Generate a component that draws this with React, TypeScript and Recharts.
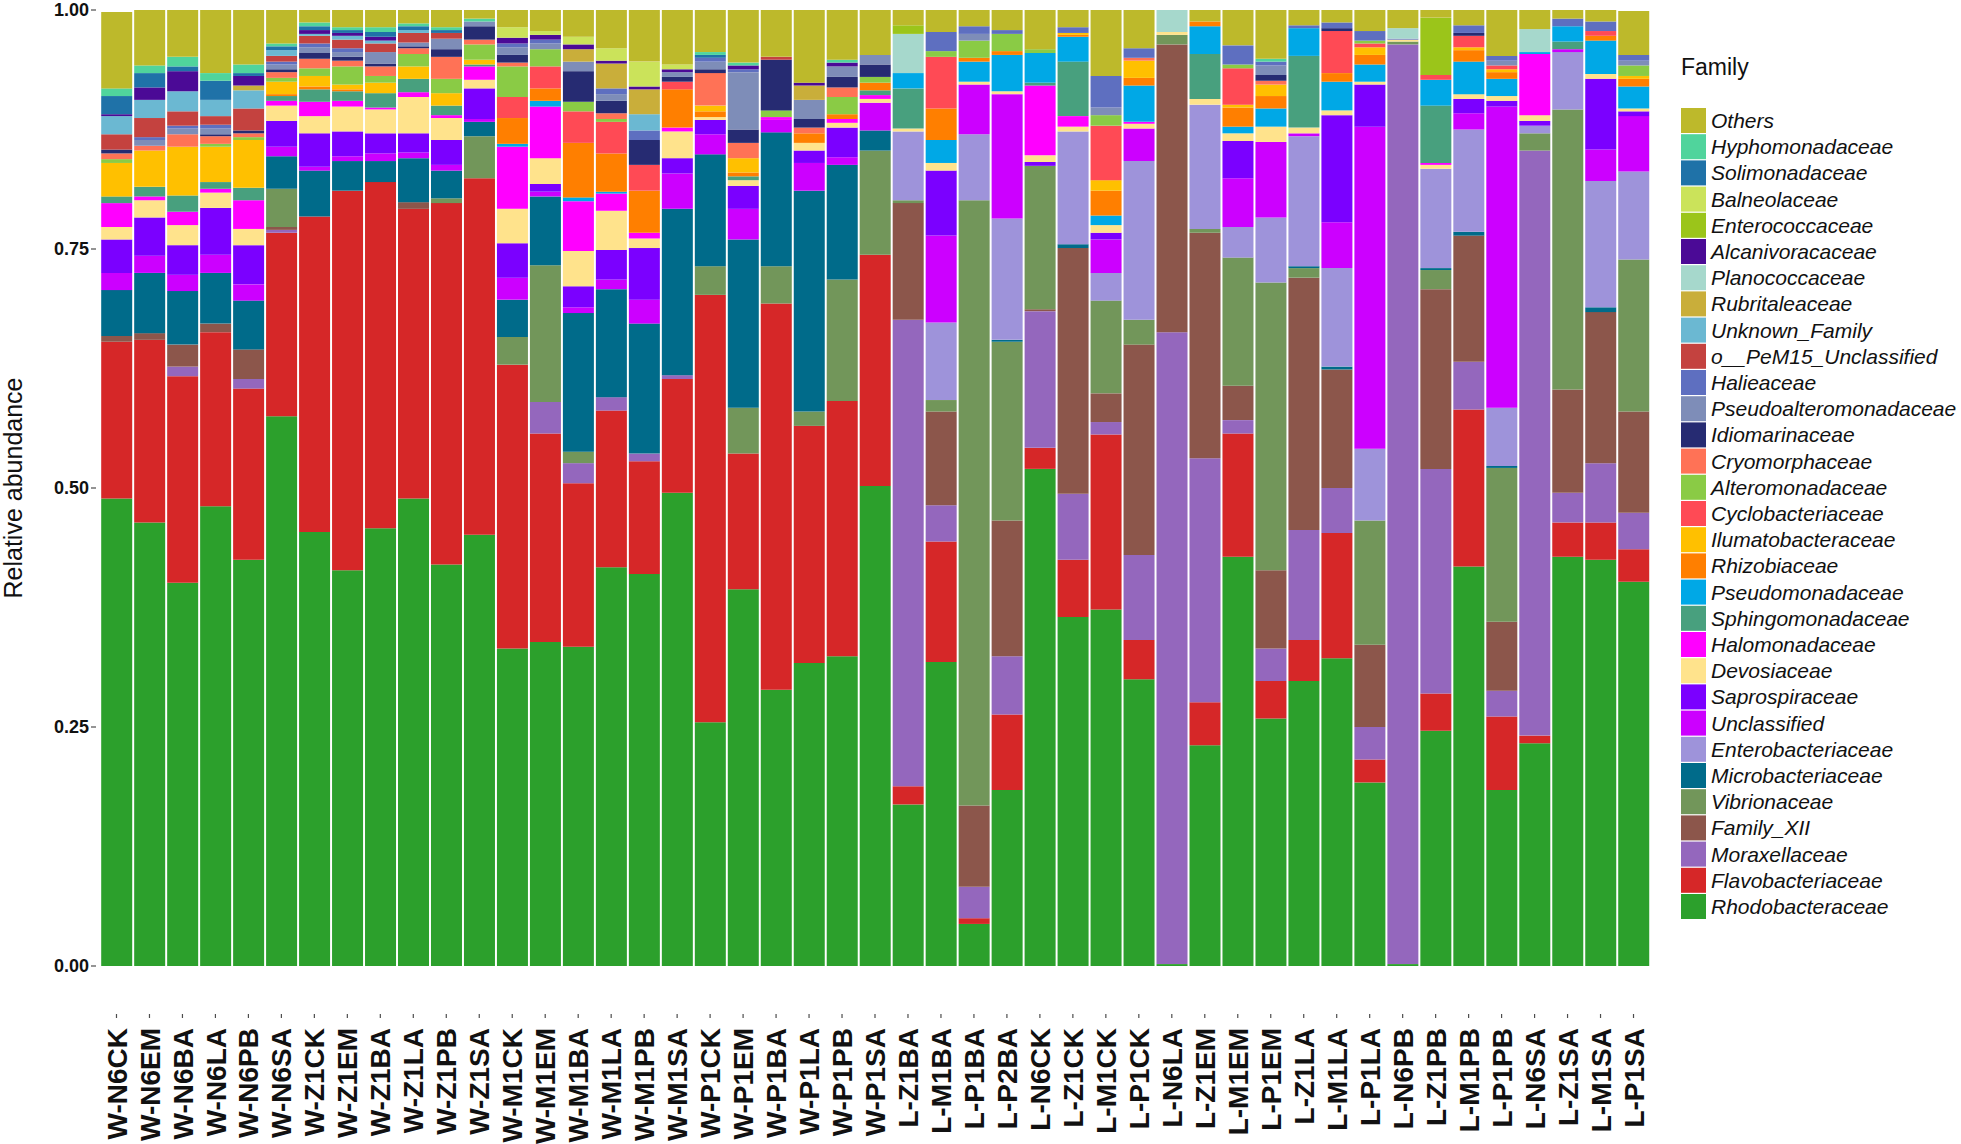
import React from 'react';
import { BarChart, Bar, XAxis, YAxis } from 'recharts';

const FONT = '"Liberation Sans", Arial, Helvetica, sans-serif';

const SAMPLES = [
  'W-N6CK', 'W-N6EM', 'W-N6BA', 'W-N6LA', 'W-N6PB', 'W-N6SA', 'W-Z1CK', 'W-Z1EM', 'W-Z1BA', 'W-Z1LA',
  'W-Z1PB', 'W-Z1SA', 'W-M1CK', 'W-M1EM', 'W-M1BA', 'W-M1LA', 'W-M1PB', 'W-M1SA', 'W-P1CK', 'W-P1EM',
  'W-P1BA', 'W-P1LA', 'W-P1PB', 'W-P1SA', 'L-Z1BA', 'L-M1BA', 'L-P1BA', 'L-P2BA', 'L-N6CK', 'L-Z1CK',
  'L-M1CK', 'L-P1CK', 'L-N6LA', 'L-Z1EM', 'L-M1EM', 'L-P1EM', 'L-Z1LA', 'L-M1LA', 'L-P1LA', 'L-N6PB',
  'L-Z1PB', 'L-M1PB', 'L-P1PB', 'L-N6SA', 'L-Z1SA', 'L-M1SA', 'L-P1SA',
];

const Y_TICKS = [0, 0.25, 0.5, 0.75, 1];

// relative abundance per sample, one array per family
const rhodobacteraceae = [
  0.489, 0.464, 0.401, 0.481, 0.425, 0.575, 0.454, 0.414, 0.458, 0.489,
  0.420, 0.451, 0.332, 0.339, 0.334, 0.417, 0.410, 0.495, 0.255, 0.394,
  0.289, 0.317, 0.324, 0.502, 0.169, 0.318, 0.044, 0.184, 0.520, 0.365,
  0.373, 0.300, 0.002, 0.231, 0.428, 0.259, 0.298, 0.322, 0.192, 0.002,
  0.246, 0.418, 0.184, 0.233, 0.428, 0.425, 0.402,
];
const flavobacteriaceae = [
  0.164, 0.191, 0.216, 0.182, 0.179, 0.192, 0.330, 0.397, 0.362, 0.303,
  0.378, 0.373, 0.297, 0.218, 0.171, 0.164, 0.118, 0.119, 0.447, 0.142,
  0.404, 0.248, 0.267, 0.242, 0.019, 0.126, 0.006, 0.079, 0.022, 0.060,
  0.183, 0.041, 0, 0.045, 0.129, 0.039, 0.043, 0.131, 0.024, 0,
  0.039, 0.164, 0.077, 0.008, 0.036, 0.039, 0.034,
];
const moraxellaceae = [
  0, 0, 0.010, 0, 0.010, 0.003, 0, 0, 0, 0,
  0, 0, 0, 0.033, 0.021, 0.014, 0.008, 0.004, 0, 0,
  0, 0, 0, 0, 0.488, 0.038, 0.033, 0.061, 0.143, 0.069,
  0.013, 0.089, 0.661, 0.255, 0.014, 0.034, 0.115, 0.047, 0.034, 0.962,
  0.235, 0.050, 0.027, 0.612, 0.031, 0.062, 0.038,
];
const familyXII = [
  0.006, 0.007, 0.023, 0.009, 0.031, 0.003, 0, 0, 0, 0.007,
  0, 0, 0, 0, 0, 0, 0, 0, 0, 0,
  0, 0, 0, 0, 0.122, 0.098, 0.085, 0.142, 0.002, 0.257,
  0.030, 0.220, 0.301, 0.236, 0.036, 0.082, 0.264, 0.124, 0.086, 0,
  0.188, 0.132, 0.072, 0, 0.108, 0.158, 0.106,
];
const vibrionaceae = [
  0, 0, 0, 0, 0, 0.040, 0, 0, 0, 0,
  0.005, 0.044, 0.029, 0.143, 0.012, 0, 0, 0, 0.030, 0.048,
  0.039, 0.015, 0.127, 0.109, 0.003, 0.012, 0.633, 0.187, 0.150, 0,
  0.097, 0.026, 0.010, 0.004, 0.134, 0.301, 0.010, 0, 0.130, 0.003,
  0.020, 0, 0.161, 0.018, 0.293, 0, 0.159,
];
const microbacteriaceae = [
  0.048, 0.063, 0.056, 0.053, 0.051, 0.034, 0.048, 0.031, 0.022, 0.046,
  0.029, 0.015, 0.039, 0.072, 0.145, 0.113, 0.136, 0.174, 0.117, 0.176,
  0.140, 0.231, 0.120, 0.021, 0, 0, 0, 0.002, 0, 0.004,
  0, 0, 0, 0, 0, 0, 0.002, 0.003, 0, 0,
  0.002, 0.004, 0.002, 0, 0, 0.005, 0,
];
const enterobacteriaceae = [
  0, 0, 0, 0, 0, 0, 0, 0, 0, 0,
  0, 0, 0, 0, 0, 0, 0, 0, 0, 0,
  0, 0, 0, 0, 0.072, 0.081, 0.069, 0.127, 0, 0.118,
  0.029, 0.166, 0, 0.130, 0.032, 0.068, 0.136, 0.103, 0.075, 0,
  0.104, 0.107, 0.061, 0.008, 0.060, 0.132, 0.092,
];
const unclassified = [
  0.018, 0.018, 0.017, 0.019, 0.017, 0.010, 0.004, 0.005, 0.008, 0.006,
  0.006, 0.003, 0.023, 0.005, 0.006, 0.010, 0.025, 0.037, 0.021, 0.032,
  0.013, 0.029, 0.008, 0.029, 0, 0.091, 0.052, 0.130, 0, 0,
  0.035, 0.034, 0, 0, 0.051, 0.079, 0.003, 0.048, 0.337, 0,
  0, 0.017, 0.315, 0, 0.003, 0.033, 0.058,
];
const saprospiraceae = [
  0.035, 0.040, 0.031, 0.049, 0.041, 0.027, 0.035, 0.026, 0.021, 0.020,
  0.026, 0.032, 0.036, 0.008, 0.022, 0.031, 0.054, 0.016, 0.015, 0.024,
  0, 0.013, 0.031, 0, 0, 0.068, 0, 0, 0.004, 0,
  0.007, 0, 0, 0, 0.039, 0, 0, 0.112, 0.044, 0,
  0, 0.015, 0.006, 0.005, 0, 0.074, 0.005,
];
const devosiaceae = [
  0.013, 0.018, 0.021, 0.016, 0.017, 0.016, 0.018, 0.026, 0.025, 0.038,
  0.023, 0.009, 0.036, 0.027, 0.037, 0.041, 0.010, 0.028, 0.003, 0.006,
  0, 0.008, 0.005, 0.004, 0.003, 0.008, 0.003, 0.003, 0.007, 0.005,
  0.008, 0.005, 0.003, 0.006, 0.008, 0.016, 0.006, 0.005, 0.003, 0.002,
  0.004, 0.005, 0.005, 0.006, 0, 0.005, 0.003,
];
const halomonadaceae = [
  0.025, 0.004, 0.014, 0.004, 0.030, 0.005, 0.015, 0.006, 0.002, 0.005,
  0.003, 0.014, 0.065, 0.054, 0.052, 0.018, 0.006, 0.004, 0, 0,
  0.003, 0, 0.004, 0.004, 0, 0, 0, 0, 0.073, 0.011,
  0, 0.002, 0, 0, 0, 0, 0, 0, 0, 0,
  0.002, 0, 0, 0.064, 0, 0, 0,
];
const sphingomonadaceae = [
  0.007, 0.010, 0.017, 0.007, 0.013, 0.005, 0.013, 0.010, 0.015, 0.014,
  0.010, 0.002, 0, 0, 0, 0, 0, 0, 0, 0.004,
  0, 0, 0, 0.005, 0.042, 0, 0, 0, 0.003, 0.057,
  0, 0, 0, 0.047, 0, 0, 0.075, 0, 0, 0,
  0.060, 0, 0, 0, 0.008, 0, 0,
];
const pseudomonadaceae = [
  0, 0, 0, 0, 0, 0, 0, 0, 0, 0,
  0, 0, 0.003, 0.006, 0.004, 0.002, 0, 0, 0, 0,
  0, 0, 0, 0, 0.016, 0.024, 0.021, 0.038, 0.031, 0.026,
  0.010, 0.038, 0, 0.029, 0.007, 0.019, 0.029, 0.030, 0.018, 0,
  0.027, 0.034, 0.018, 0.002, 0.016, 0.035, 0.023,
];
const rhizobiaceae = [
  0, 0, 0, 0, 0, 0.002, 0.003, 0.002, 0, 0,
  0, 0, 0.027, 0.013, 0.057, 0.040, 0.044, 0.040, 0.006, 0.004,
  0, 0.010, 0.005, 0.008, 0, 0.033, 0.004, 0.004, 0, 0.002,
  0.026, 0.008, 0, 0.005, 0.020, 0.013, 0, 0.009, 0.010, 0,
  0, 0.012, 0.007, 0, 0, 0.005, 0.008,
];
const ilumatobacteraceae = [
  0.035, 0.038, 0.051, 0.037, 0.050, 0.013, 0.011, 0.005, 0.011, 0.013,
  0.013, 0.005, 0, 0, 0, 0, 0, 0, 0.006, 0.015,
  0, 0, 0, 0, 0, 0, 0, 0, 0, 0.002,
  0.011, 0.018, 0, 0, 0.003, 0.012, 0, 0, 0.008, 0,
  0, 0.003, 0.003, 0, 0, 0, 0.003,
];
const cyclobacteriaceae = [
  0, 0, 0, 0, 0, 0, 0, 0, 0, 0,
  0, 0, 0.022, 0.023, 0.033, 0.033, 0.027, 0.008, 0, 0,
  0, 0, 0, 0, 0, 0.054, 0, 0, 0, 0,
  0.057, 0, 0, 0, 0.038, 0, 0, 0.044, 0.004, 0,
  0.005, 0.012, 0.004, 0, 0, 0.005, 0,
];
const alteromonadaceae = [
  0.004, 0, 0, 0.003, 0.003, 0.004, 0.008, 0.019, 0.007, 0.013,
  0.015, 0.016, 0.032, 0.018, 0.010, 0.003, 0, 0, 0, 0,
  0.007, 0, 0.018, 0.006, 0, 0.006, 0.018, 0.018, 0.004, 0,
  0.011, 0, 0, 0, 0.004, 0, 0, 0, 0.003, 0,
  0, 0, 0, 0, 0, 0, 0.011,
];
const cryomorphaceae = [
  0.006, 0.005, 0.013, 0.008, 0.004, 0.006, 0.010, 0.006, 0.010, 0.006,
  0.023, 0.005, 0.004, 0, 0, 0.006, 0, 0, 0.034, 0.016,
  0, 0.006, 0.010, 0, 0, 0, 0, 0, 0, 0,
  0, 0.003, 0, 0, 0, 0.004, 0, 0, 0, 0,
  0, 0, 0, 0, 0, 0, 0,
];
const idiomarinaceae = [
  0.004, 0, 0, 0.002, 0.003, 0.003, 0.006, 0.004, 0.003, 0.002,
  0.008, 0.014, 0.008, 0, 0.032, 0.013, 0.026, 0.005, 0.004, 0.014,
  0.053, 0.009, 0.011, 0.013, 0, 0, 0, 0, 0, 0,
  0, 0, 0, 0, 0, 0.006, 0, 0.003, 0, 0,
  0, 0.003, 0, 0, 0, 0, 0,
];
const pseudoalteromonadaceae = [
  0, 0.006, 0.006, 0.006, 0, 0.005, 0.006, 0.005, 0.012, 0.004,
  0.011, 0.005, 0.008, 0.006, 0.010, 0.007, 0, 0.005, 0.008, 0.060,
  0, 0.020, 0.011, 0.010, 0, 0, 0.007, 0, 0, 0,
  0.008, 0, 0, 0, 0, 0.010, 0, 0, 0, 0,
  0, 0, 0.005, 0, 0, 0, 0.005,
];
const halieaceae = [
  0, 0.003, 0.003, 0.004, 0, 0.003, 0.004, 0.004, 0, 0,
  0, 0, 0.004, 0.004, 0, 0.006, 0.010, 0, 0.004, 0.003,
  0, 0, 0, 0, 0, 0.020, 0.008, 0.004, 0, 0.006,
  0.033, 0.010, 0, 0, 0.020, 0.004, 0.003, 0.006, 0.010, 0.001,
  0, 0.008, 0.005, 0, 0.008, 0.010, 0.006,
];
const peM15 = [
  0.016, 0.020, 0.015, 0.009, 0.023, 0.006, 0.008, 0.009, 0.009, 0.010,
  0.006, 0, 0, 0, 0, 0, 0, 0, 0, 0,
  0.003, 0, 0, 0, 0, 0, 0, 0, 0, 0,
  0, 0, 0, 0, 0, 0, 0, 0, 0, 0,
  0, 0, 0, 0, 0, 0, 0,
];
const unknownFamily = [
  0.019, 0.019, 0.021, 0.017, 0.019, 0.006, 0.002, 0.004, 0.003, 0.003,
  0, 0, 0, 0, 0, 0, 0.017, 0, 0, 0,
  0, 0, 0, 0, 0, 0, 0, 0, 0, 0,
  0, 0, 0, 0, 0, 0, 0, 0, 0, 0,
  0, 0, 0, 0, 0, 0, 0,
];
const rubritaleaceae = [
  0, 0, 0, 0, 0.005, 0, 0, 0, 0, 0,
  0, 0, 0, 0, 0.013, 0.026, 0.026, 0, 0, 0,
  0, 0.015, 0, 0, 0, 0, 0, 0, 0, 0,
  0, 0, 0, 0, 0, 0, 0, 0, 0, 0,
  0, 0, 0, 0, 0, 0, 0,
];
const planococcaceae = [
  0, 0, 0, 0, 0, 0, 0, 0, 0, 0,
  0, 0, 0, 0, 0, 0, 0, 0, 0, 0,
  0, 0, 0, 0, 0.041, 0, 0, 0, 0, 0,
  0, 0, 0.023, 0, 0, 0, 0, 0, 0, 0.011,
  0, 0, 0, 0.024, 0, 0, 0,
];
const alcanivoracaceae = [
  0.002, 0.013, 0.021, 0, 0.010, 0, 0.004, 0.003, 0.004, 0,
  0, 0, 0.006, 0.005, 0.005, 0.003, 0.003, 0.003, 0, 0.004,
  0, 0.003, 0.004, 0, 0, 0, 0, 0, 0, 0,
  0, 0, 0, 0, 0, 0, 0, 0, 0, 0,
  0, 0, 0, 0, 0, 0, 0,
];
const enterococcaceae = [
  0, 0, 0, 0, 0, 0, 0, 0, 0, 0,
  0, 0, 0, 0, 0, 0, 0, 0, 0, 0,
  0, 0, 0, 0, 0.009, 0, 0, 0, 0, 0,
  0, 0, 0, 0, 0, 0, 0, 0, 0, 0,
  0.060, 0, 0, 0, 0, 0, 0,
];
const balneolaceae = [
  0, 0, 0, 0, 0, 0, 0, 0, 0, 0,
  0, 0, 0.011, 0.004, 0.008, 0.013, 0.026, 0.005, 0, 0,
  0, 0, 0, 0, 0, 0, 0, 0, 0, 0,
  0, 0, 0, 0, 0, 0, 0, 0, 0, 0,
  0, 0, 0, 0, 0, 0, 0,
];
const solimonadaceae = [
  0.019, 0.015, 0.005, 0.020, 0.003, 0.004, 0.004, 0.003, 0.005, 0.004,
  0.003, 0, 0, 0, 0, 0, 0, 0, 0.003, 0,
  0, 0, 0, 0, 0, 0, 0, 0, 0, 0,
  0, 0, 0, 0, 0, 0, 0, 0, 0, 0,
  0, 0, 0, 0, 0, 0, 0,
];
const hyphomonadaceae = [
  0.008, 0.008, 0.010, 0.008, 0.009, 0.003, 0.004, 0.003, 0.005, 0.003,
  0.003, 0.003, 0, 0, 0, 0, 0, 0, 0.003, 0.003,
  0, 0, 0.003, 0, 0, 0, 0, 0, 0, 0,
  0, 0, 0, 0, 0, 0.003, 0, 0, 0, 0,
  0, 0, 0, 0, 0, 0, 0,
];
const others = [
  0.080, 0.058, 0.049, 0.066, 0.057, 0.035, 0.013, 0.018, 0.018, 0.014,
  0.018, 0.009, 0.018, 0.022, 0.028, 0.040, 0.054, 0.057, 0.044, 0.055,
  0.049, 0.076, 0.052, 0.047, 0.016, 0.023, 0.017, 0.021, 0.041, 0.018,
  0.069, 0.040, 0, 0.012, 0.037, 0.052, 0.016, 0.013, 0.022, 0.019,
  0.008, 0.016, 0.048, 0.020, 0.009, 0.012, 0.046,
];

// stacking order, bottom to top
const SERIES: [string, number[]][] = [
  ['Rhodobacteraceae', rhodobacteraceae],
  ['Flavobacteriaceae', flavobacteriaceae],
  ['Moraxellaceae', moraxellaceae],
  ['Family_XII', familyXII],
  ['Vibrionaceae', vibrionaceae],
  ['Microbacteriaceae', microbacteriaceae],
  ['Enterobacteriaceae', enterobacteriaceae],
  ['Unclassified', unclassified],
  ['Saprospiraceae', saprospiraceae],
  ['Devosiaceae', devosiaceae],
  ['Halomonadaceae', halomonadaceae],
  ['Sphingomonadaceae', sphingomonadaceae],
  ['Pseudomonadaceae', pseudomonadaceae],
  ['Rhizobiaceae', rhizobiaceae],
  ['Ilumatobacteraceae', ilumatobacteraceae],
  ['Cyclobacteriaceae', cyclobacteriaceae],
  ['Alteromonadaceae', alteromonadaceae],
  ['Cryomorphaceae', cryomorphaceae],
  ['Idiomarinaceae', idiomarinaceae],
  ['Pseudoalteromonadaceae', pseudoalteromonadaceae],
  ['Halieaceae', halieaceae],
  ['o__PeM15_Unclassified', peM15],
  ['Unknown_Family', unknownFamily],
  ['Rubritaleaceae', rubritaleaceae],
  ['Planococcaceae', planococcaceae],
  ['Alcanivoracaceae', alcanivoracaceae],
  ['Enterococcaceae', enterococcaceae],
  ['Balneolaceae', balneolaceae],
  ['Solimonadaceae', solimonadaceae],
  ['Hyphomonadaceae', hyphomonadaceae],
  ['Others', others],
];

const COLORS: Record<string, string> = {
  Rhodobacteraceae: '#2ca02c',
  Flavobacteriaceae: '#d62728',
  Moraxellaceae: '#9467bd',
  Family_XII: '#8c564b',
  Vibrionaceae: '#72965a',
  Microbacteriaceae: '#006b8a',
  Enterobacteriaceae: '#9e93da',
  Unclassified: '#cc00ff',
  Saprospiraceae: '#7b00ff',
  Devosiaceae: '#ffe38c',
  Halomonadaceae: '#ff00ff',
  Sphingomonadaceae: '#48a07e',
  Pseudomonadaceae: '#00a8e6',
  Rhizobiaceae: '#ff7f00',
  Ilumatobacteraceae: '#ffc000',
  Cyclobacteriaceae: '#ff4a55',
  Alteromonadaceae: '#8acb45',
  Cryomorphaceae: '#ff7256',
  Idiomarinaceae: '#262b72',
  Pseudoalteromonadaceae: '#7e8db8',
  Halieaceae: '#5e6fc0',
  o__PeM15_Unclassified: '#c4423f',
  Unknown_Family: '#6bb8d2',
  Rubritaleaceae: '#c9ae3a',
  Planococcaceae: '#a6d8cc',
  Alcanivoracaceae: '#4b0a96',
  Enterococcaceae: '#9bc51a',
  Balneolaceae: '#cbe35a',
  Solimonadaceae: '#1f72a8',
  Hyphomonadaceae: '#50d49c',
  Others: '#bdb92b',
};

const rows = SAMPLES.map((sample, i) => {
  const row: Record<string, string | number> = { sample };
  SERIES.forEach(([name, values]) => {
    row[name] = values[i];
  });
  return row;
});

function XTick(props: any) {
  const { x, y, payload } = props;
  return (
    <g>
      <line x1={x} x2={x} y1={y + 48} y2={y + 52} stroke="#4d4d4d" strokeWidth={1.2} />
      <text
        transform={`translate(${x},${y + 62}) rotate(-90)`}
        textAnchor="end"
        dy="0.36em"
        fontSize={28}
        fontWeight="bold"
        fontFamily={FONT}
        fill="#111"
      >
        {payload.value}
      </text>
    </g>
  );
}

function YTick(props: any) {
  const { x, y, payload } = props;
  return (
    <g>
      <line x1={x - 9} x2={x - 4} y1={y} y2={y} stroke="#4d4d4d" strokeWidth={1.2} />
      <text x={x - 11} y={y} textAnchor="end" dy="0.36em" fontSize={18} fontWeight="bold" fontFamily={FONT} fill="#111">
        {Number(payload.value).toFixed(2)}
      </text>
    </g>
  );
}

function YTitle(props: any) {
  const { x, y, height } = props.viewBox;
  const cx = x + 13;
  const cy = y + height / 2;
  return (
    <text
      x={cx}
      y={cy}
      transform={`rotate(-90 ${cx} ${cy})`}
      textAnchor="middle"
      dy="0.36em"
      fontSize={25}
      fontFamily={FONT}
      fill="#111"
    >
      Relative abundance
    </text>
  );
}

function FamilyLegend() {
  const items = [...SERIES].reverse();
  return (
    <svg width={280} height={930} style={{ position: 'absolute', left: 1681, top: 0 }}>
      <text x={0} y={75} fontSize={23} fontFamily={FONT} fill="#111">
        Family
      </text>
      {items.map(([name], i) => {
        const top = 108 + i * 26.2;
        return (
          <g key={name}>
            <rect x={0} y={top} width={25} height={25} fill={COLORS[name]} />
            <text x={30} y={top + 12.5} dy="0.36em" fontSize={21} fontStyle="italic" fontFamily={FONT} fill="#111">
              {name}
            </text>
          </g>
        );
      })}
    </svg>
  );
}

export default function App() {
  return (
    <div style={{ position: 'absolute', left: 0, top: 0, width: 1961, height: 1144, background: '#fff', fontFamily: FONT }}>
      <BarChart
        width={1961}
        height={1144}
        data={rows}
        margin={{ top: 10, right: 311, bottom: 0, left: 0 }}
        barCategoryGap={1.2}
      >
        <XAxis
          dataKey="sample"
          interval={0}
          height={178}
          axisLine={false}
          tickLine={false}
          tickSize={0}
          tickMargin={0}
          tick={XTick}
        />
        <YAxis
          type="number"
          domain={[0, 1]}
          ticks={Y_TICKS}
          allowDataOverflow
          width={100}
          axisLine={false}
          tickLine={false}
          tickSize={0}
          tickMargin={0}
          tick={YTick}
          label={YTitle}
        />
        {SERIES.map(([name]) => (
          <Bar key={name} dataKey={name} stackId="family" fill={COLORS[name]} isAnimationActive={false} />
        ))}
      </BarChart>
      <FamilyLegend />
    </div>
  );
}
